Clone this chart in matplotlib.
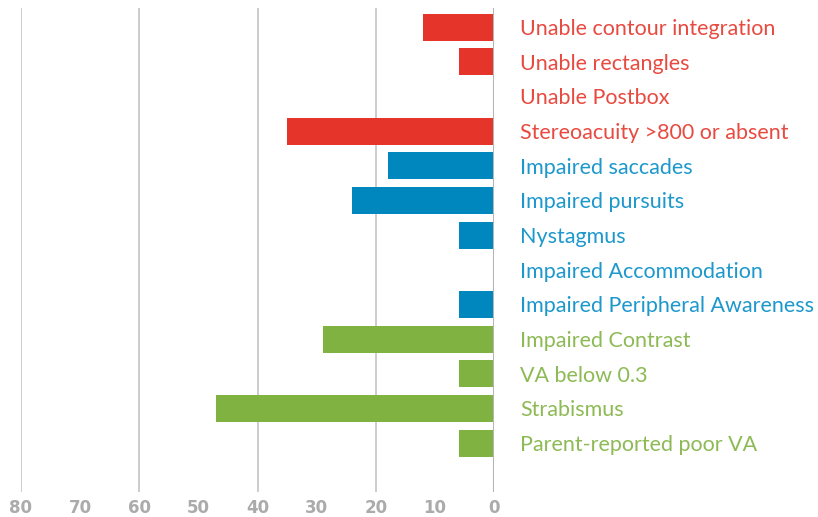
import matplotlib
matplotlib.use('Agg')
import matplotlib.pyplot as plt
from matplotlib.ticker import MultipleLocator
import numpy as np

# categories top to bottom, with their value and group
labels = ['Unable contour integration', 'Unable rectangles', 'Unable Postbox',
          'Stereoacuity >800 or absent', 'Impaired saccades',
          'Impaired pursuits', 'Nystagmus', 'Impaired Accommodation',
          'Impaired Peripheral Awareness', 'Impaired Contrast',
          'VA below 0.3', 'Strabismus', 'Parent-reported poor VA']
values = [12, 6, 0, 35, 18, 24, 6, 0, 6, 29, 6, 47, 6]
groups = ['red', 'red', 'red', 'red', 'blue', 'blue', 'blue', 'blue', 'blue',
          'green', 'green', 'green', 'green']

bar_colors = {'red': '#E5352B', 'blue': '#0087BE', 'green': '#80B241'}
text_colors = {'red': '#E84A40', 'blue': '#1D98CC', 'green': '#8DBA55'}

fig = plt.figure(figsize=(8.18, 5.17), dpi=100)
ax = fig.add_axes([21 / 818, 25 / 517, 473 / 818, 484 / 517])

y_pos = np.arange(len(labels))
ax.barh(y_pos, values, height=0.78, color=[bar_colors[g] for g in groups],
        zorder=3)

ax.set_xlim(80, 0)
ax.set_ylim(len(labels) - 1 + 1.41, -0.55)

# major ticks every 20 carry the grid, minor ticks fill in the 10s
ax.xaxis.set_major_locator(MultipleLocator(20))
ax.xaxis.set_minor_locator(MultipleLocator(10))
ax.xaxis.set_minor_formatter(ax.xaxis.get_major_formatter())
ax.tick_params(axis='x', which='both', length=0, pad=5,
               labelsize=12, labelcolor='#ABABAB')
for t in ax.get_xticklabels(which='both'):
    t.set_fontweight('bold')
ax.grid(axis='x', which='major', color='#C4C4C4', linewidth=1.2, zorder=0)
ax.axvline(0, color='#B5B5B5', linewidth=2.2, zorder=4)
ax.set_yticks([])
for s in ax.spines.values():
    s.set_visible(False)

for i, (lab, g) in enumerate(zip(labels, groups)):
    ax.annotate(lab, xy=(0, i), xytext=(19, 0), textcoords='offset points',
                xycoords='data', va='center_baseline', ha='left',
                fontsize=15.5, family='Lato', color=text_colors[g])

plt.savefig('out.png', dpi=100)
